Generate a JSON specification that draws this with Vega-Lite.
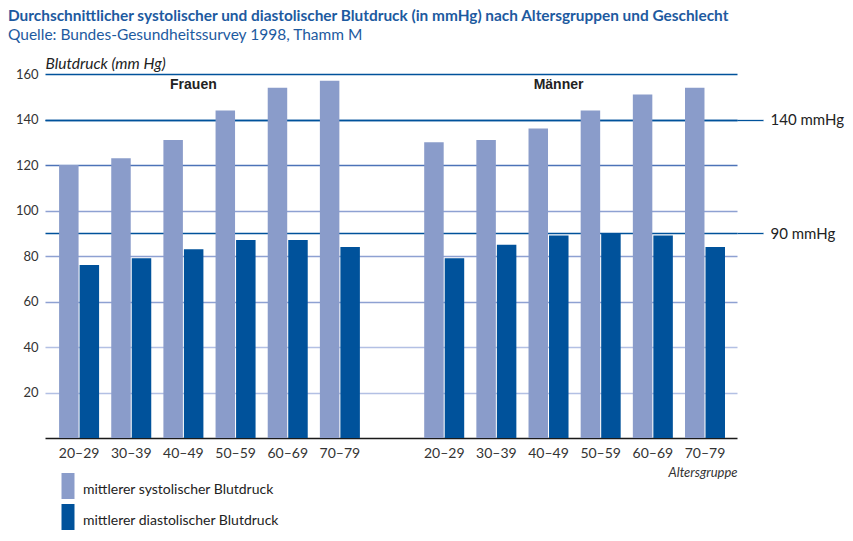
{
  "$schema": "https://vega.github.io/schema/vega-lite/v6.json",
  "width": 692,
  "height": 364,
  "autosize": {"type": "none"},
  "padding": {"left": 45, "top": 74, "right": 116, "bottom": 103},
  "background": "#ffffff",
  "config": {"view": {"stroke": null}, "font": "Lato"},
  "title": {
    "text": "Durchschnittlicher systolischer und diastolischer Blutdruck (in mmHg) nach Altersgruppen und Geschlecht",
    "subtitle": "Quelle: Bundes-Gesundheitssurvey 1998, Thamm M",
    "anchor": "start",
    "frame": "group",
    "dx": -37,
    "offset": 13,
    "font": "Lato",
    "fontSize": 15.4,
    "fontWeight": "bold",
    "color": "#1d5aa0",
    "subtitleFont": "Lato",
    "subtitleFontSize": 15.5,
    "subtitleColor": "#1d5aa0",
    "subtitlePadding": 3
  },
  "datasets": {
    "blutdruck": [
      {"geschlecht": "Frauen", "gruppe": "Frauen 20–29", "messung": "mittlerer systolischer Blutdruck", "wert": 120},
      {"geschlecht": "Frauen", "gruppe": "Frauen 30–39", "messung": "mittlerer systolischer Blutdruck", "wert": 123},
      {"geschlecht": "Frauen", "gruppe": "Frauen 40–49", "messung": "mittlerer systolischer Blutdruck", "wert": 131},
      {"geschlecht": "Frauen", "gruppe": "Frauen 50–59", "messung": "mittlerer systolischer Blutdruck", "wert": 144},
      {"geschlecht": "Frauen", "gruppe": "Frauen 60–69", "messung": "mittlerer systolischer Blutdruck", "wert": 154},
      {"geschlecht": "Frauen", "gruppe": "Frauen 70–79", "messung": "mittlerer systolischer Blutdruck", "wert": 157},
      {"geschlecht": "Frauen", "gruppe": "Frauen 20–29", "messung": "mittlerer diastolischer Blutdruck", "wert": 76},
      {"geschlecht": "Frauen", "gruppe": "Frauen 30–39", "messung": "mittlerer diastolischer Blutdruck", "wert": 79},
      {"geschlecht": "Frauen", "gruppe": "Frauen 40–49", "messung": "mittlerer diastolischer Blutdruck", "wert": 83},
      {"geschlecht": "Frauen", "gruppe": "Frauen 50–59", "messung": "mittlerer diastolischer Blutdruck", "wert": 87},
      {"geschlecht": "Frauen", "gruppe": "Frauen 60–69", "messung": "mittlerer diastolischer Blutdruck", "wert": 87},
      {"geschlecht": "Frauen", "gruppe": "Frauen 70–79", "messung": "mittlerer diastolischer Blutdruck", "wert": 84},
      {"geschlecht": "Männer", "gruppe": "Männer 20–29", "messung": "mittlerer systolischer Blutdruck", "wert": 130},
      {"geschlecht": "Männer", "gruppe": "Männer 30–39", "messung": "mittlerer systolischer Blutdruck", "wert": 131},
      {"geschlecht": "Männer", "gruppe": "Männer 40–49", "messung": "mittlerer systolischer Blutdruck", "wert": 136},
      {"geschlecht": "Männer", "gruppe": "Männer 50–59", "messung": "mittlerer systolischer Blutdruck", "wert": 144},
      {"geschlecht": "Männer", "gruppe": "Männer 60–69", "messung": "mittlerer systolischer Blutdruck", "wert": 151},
      {"geschlecht": "Männer", "gruppe": "Männer 70–79", "messung": "mittlerer systolischer Blutdruck", "wert": 154},
      {"geschlecht": "Männer", "gruppe": "Männer 20–29", "messung": "mittlerer diastolischer Blutdruck", "wert": 79},
      {"geschlecht": "Männer", "gruppe": "Männer 30–39", "messung": "mittlerer diastolischer Blutdruck", "wert": 85},
      {"geschlecht": "Männer", "gruppe": "Männer 40–49", "messung": "mittlerer diastolischer Blutdruck", "wert": 89},
      {"geschlecht": "Männer", "gruppe": "Männer 50–59", "messung": "mittlerer diastolischer Blutdruck", "wert": 90},
      {"geschlecht": "Männer", "gruppe": "Männer 60–69", "messung": "mittlerer diastolischer Blutdruck", "wert": 89},
      {"geschlecht": "Männer", "gruppe": "Männer 70–79", "messung": "mittlerer diastolischer Blutdruck", "wert": 84}
    ],
    "geschlechter": [
      {"geschlecht": "Frauen", "gruppe": "Frauen 40–49"},
      {"geschlecht": "Männer", "gruppe": "Männer 40–49"}
    ]
  },
  "encoding": {
    "x": {
      "field": "gruppe",
      "type": "nominal",
      "scale": {
        "domain": ["Frauen 20–29", "Frauen 30–39", "Frauen 40–49", "Frauen 50–59", "Frauen 60–69", "Frauen 70–79", "Abstand",
                   "Männer 20–29", "Männer 30–39", "Männer 40–49", "Männer 50–59", "Männer 60–69", "Männer 70–79"],
        "paddingInner": 0.233,
        "paddingOuter": 0.25,
        "align": 0.54
      },
      "axis": {
        "orient": "bottom",
        "domain": true,
        "domainColor": "#1a1a1a",
        "domainWidth": 1.6,
        "ticks": false,
        "grid": false,
        "labelAngle": 0,
        "labelPadding": 8,
        "labelFont": "Lato",
        "labelFontSize": 14,
        "labelColor": "#333333",
        "labelExpr": "indexof(datum.value, ' ') > 0 ? split(datum.value, ' ')[1] : ''",
        "title": "Altersgruppe",
        "titleFont": "Lato",
        "titleFontSize": 13,
        "titleFontStyle": "italic",
        "titleFontWeight": "normal",
        "titleColor": "#333333",
        "titleAlign": "right",
        "titleAnchor": "end",
        "titleBaseline": "middle",
        "titleX": 692,
        "titleY": 34
      }
    }
  },
  "layer": [
    {
      "data": {"name": "blutdruck"},
      "mark": {"type": "bar"},
      "encoding": {
        "xOffset": {
          "field": "messung",
          "type": "nominal",
          "scale": {"domain": ["mittlerer systolischer Blutdruck", "mittlerer diastolischer Blutdruck"], "paddingInner": 0.05}
        },
        "y": {
          "field": "wert",
          "type": "quantitative",
          "scale": {"domain": [0, 160], "nice": false},
          "axis": {
            "orient": "left",
            "values": [20, 40, 60, 80, 100, 120, 140, 160],
            "domain": false,
            "ticks": false,
            "labelPadding": 7,
            "labelFont": "Lato",
            "labelFontSize": 13,
            "labelColor": "#333333",
            "grid": true,
            "gridWidth": 1.3,
            "gridColor": {
              "condition": [
                {"test": "datum.value >= 140", "value": "#00529b"},
                {"test": "datum.value == 120", "value": "#4d73b8"},
                {"test": "datum.value >= 60", "value": "#8ea1d2"}
              ],
              "value": "#b3c0e4"
            },
            "title": "Blutdruck  (mm Hg)",
            "titleAngle": 0,
            "titleAlign": "left",
            "titleBaseline": "alphabetic",
            "titleX": 0,
            "titleY": -6,
            "titleFont": "Lato",
            "titleFontSize": 15.5,
            "titleFontStyle": "italic",
            "titleFontWeight": "normal",
            "titleColor": "#222222"
          }
        },
        "color": {
          "field": "messung",
          "type": "nominal",
          "scale": {
            "domain": ["mittlerer systolischer Blutdruck", "mittlerer diastolischer Blutdruck"],
            "range": ["#8a9cca", "#00529b"]
          },
          "legend": {
            "orient": "none",
            "legendX": 16,
            "legendY": 405,
            "direction": "vertical",
            "title": null,
            "padding": 0,
            "symbolType": "M-1,-2V2H1V-2Z",
            "symbolSize": 169,
            "symbolStrokeWidth": 0,
            "labelFont": "Lato",
            "labelFontSize": 14,
            "labelColor": "#222222",
            "labelOffset": 8,
            "rowPadding": 5,
            "labelLimit": 400,
            "encode": {
              "symbols": {
                "update": {
                  "fill": {"signal": "datum.value === 'mittlerer systolischer Blutdruck' ? '#5b7fbb' : '#00529b'"},
                  "opacity": {"value": 1}
                }
              },
              "labels": {
                "update": {
                  "dy": {"value": 4}
                }
              }
            }
          }
        }
      }
    },
    {
      "data": {"name": "geschlechter"},
      "mark": {"type": "text", "font": "Liberation Sans", "fontSize": 14, "fontWeight": "bold", "color": "#222222", "baseline": "middle", "align": "center", "dx": 10},
      "encoding": {
        "text": {"field": "geschlecht"},
        "y": {
          "datum": 155,
          "type": "quantitative",
          "axis": {
            "orient": "right",
            "values": [90, 140],
            "domain": false,
            "ticks": true,
            "tickSize": 26,
            "tickWidth": 1.3,
            "tickColor": "#00529b",
            "labelPadding": 7,
            "labelFont": "Lato",
            "labelFontSize": 15,
            "labelColor": "#222222",
            "labelExpr": "datum.value + ' mmHg'",
            "grid": true,
            "gridWidth": 1.3,
            "gridColor": "#00529b",
            "title": null
          }
        }
      }
    }
  ],
  "resolve": {"axis": {"y": "independent"}}
}
